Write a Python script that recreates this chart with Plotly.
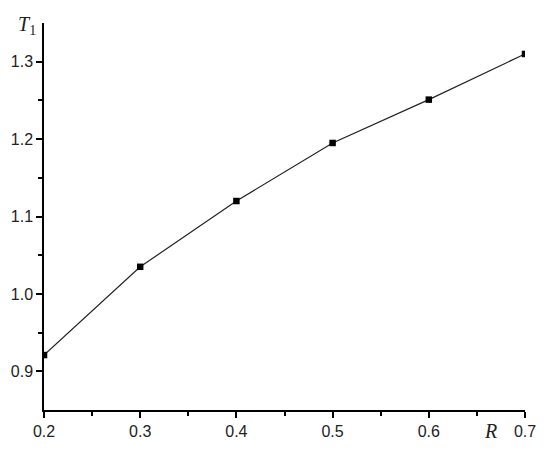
import plotly.graph_objects as go

r_vals = [0.2, 0.3, 0.4, 0.5, 0.6, 0.7]
t1_vals = [0.921, 1.035, 1.12, 1.195, 1.251, 1.31]

x_ticks = [0.2, 0.3, 0.4, 0.5, 0.6, 0.7]
x_minor = [0.25, 0.35, 0.45, 0.55, 0.65]
y_ticks = [0.9, 1.0, 1.1, 1.2, 1.3]
y_minor = [0.95, 1.05, 1.15, 1.25]

# page body has an 8px margin, so the figure is offset by 8px
PAGE_OFF = 8
w, h = 550 - PAGE_OFF, 451 - PAGE_OFF
ml, mr, mt, mb = 44 - PAGE_OFF, 25, 23 - PAGE_OFF, 41
pw, ph = w - ml - mr, h - mt - mb
plot_left, plot_bottom = 44, 410  # in page pixels

fig = go.Figure()
fig.add_trace(
    go.Scatter(
        x=r_vals,
        y=t1_vals,
        mode="lines+markers",
        line=dict(color="#222222", width=1.2),
        marker=dict(symbol="square", size=6.5, color="black"),
        cliponaxis=True,
        showlegend=False,
    )
)

axis_common = dict(
    showgrid=False,
    zeroline=False,
    showline=True,
    linecolor="black",
    linewidth=1.5,
    ticks="outside",
    ticklen=6,
    tickwidth=1.5,
    tickcolor="black",
    automargin=False,
    tickfont=dict(family="Liberation Sans, Arial", size=16, color="#222"),
)

fig.update_xaxes(
    range=[0.2, 0.7],
    tickvals=x_ticks,
    ticktext=[f"{v:.1f}" for v in x_ticks],
    minor=dict(tickvals=x_minor, ticks="outside", ticklen=4, tickwidth=1.5, tickcolor="black"),
    **axis_common,
)
fig.update_yaxes(
    range=[0.85, 1.35],
    tickvals=y_ticks,
    ticktext=[f"{v:.1f}" for v in y_ticks],
    minor=dict(tickvals=y_minor, ticks="outside", ticklen=4, tickwidth=1.5, tickcolor="black"),
    **axis_common,
)

label_font = dict(family="Liberation Serif, Times New Roman", size=20, color="#222")
fig.add_annotation(
    text="<i>R</i>", xref="paper", yref="paper",
    x=(490 - plot_left) / pw, y=(plot_bottom - 431) / ph,
    xanchor="center", yanchor="middle", showarrow=False, font=label_font,
)
fig.add_annotation(
    text="<i>T</i><sub>1</sub>", xref="paper", yref="paper",
    x=(27 - plot_left) / pw, y=(plot_bottom - 25) / ph,
    xanchor="center", yanchor="middle", showarrow=False, font=label_font,
)

fig.update_layout(
    width=w,
    height=h,
    margin=dict(l=ml, r=mr, t=mt, b=mb),
    plot_bgcolor="white",
    paper_bgcolor="white",
)

fig.write_html("out.html")
